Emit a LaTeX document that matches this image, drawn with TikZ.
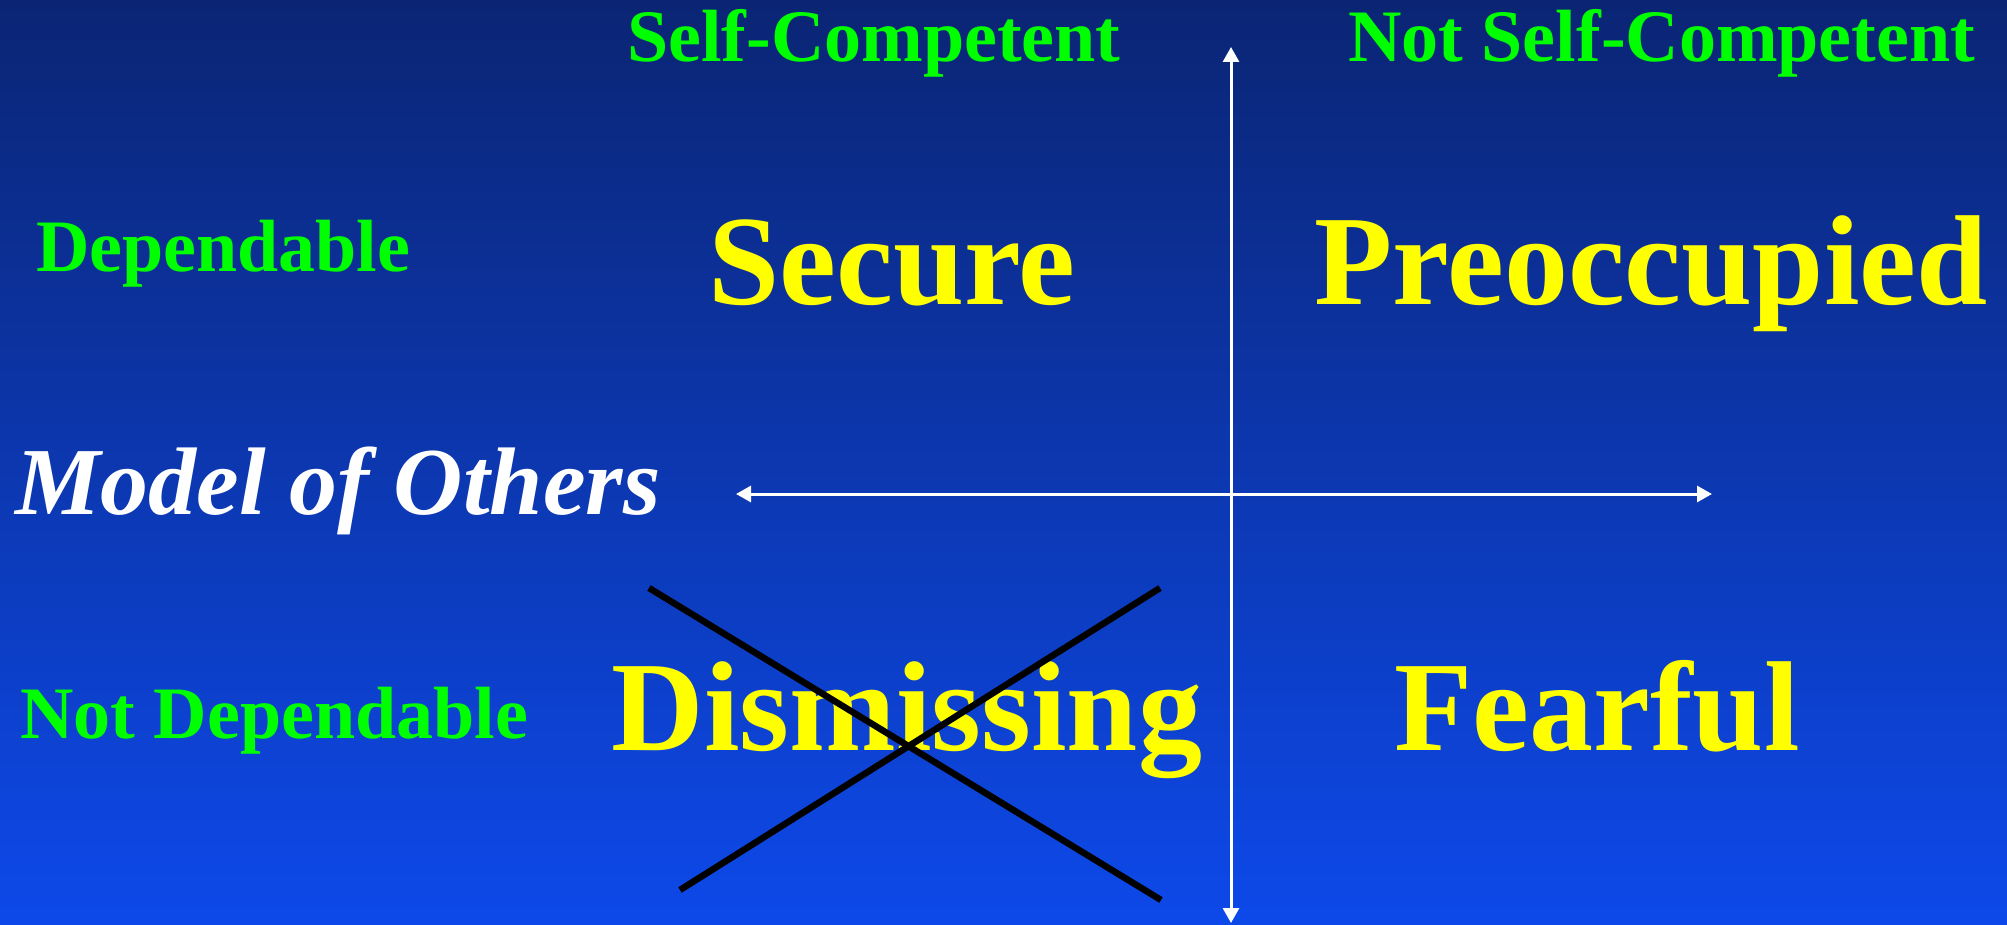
\documentclass[tikz,border=0pt]{standalone}
\usepackage{fontspec}
\setmainfont{Liberation Serif}
\usepackage{tikz}
\usetikzlibrary{arrows.meta}

\definecolor{bgtop}{RGB}{11,37,116}
\definecolor{bgbottom}{RGB}{13,73,234}
\definecolor{lime}{RGB}{0,255,0}
\definecolor{canary}{RGB}{255,255,0}

\tikzset{
    axislabel/.style={inner sep=0pt, text=lime, font=\bfseries\fontsize{74}{80}\selectfont},
    quadrant/.style={inner sep=0pt, text=canary, font=\bfseries\fontsize{128}{134}\selectfont},
    modellabel/.style={inner sep=0pt, text=white, font=\bfseries\itshape\fontsize{96}{100}\selectfont},
    axis/.style={white, line width=3pt, {Triangle[length=15pt,width=16pt]}-{Triangle[length=15pt,width=16pt]}},
    strike/.style={black, line width=6.5pt}
}

\begin{document}
\begin{tikzpicture}[x=1pt, y=-1pt]

        \shade[top color=bgtop, bottom color=bgbottom] (0,0) rectangle (2007,925);
        \useasboundingbox (0,0) rectangle (2007,925);

            % axes
            \coordinate (up) at (1231,47);
            \coordinate (down) at (1231,923);
            \coordinate (left) at (736,494);
            \coordinate (right) at (1712,494);
            \draw[axis] (down) -- (up);
            \draw[axis] (left) -- (right);

            % column and row headings
            \node[axislabel, anchor=base west] (selfcomp) at (627,62) {Self-Competent};
            \node[axislabel, anchor=base west] (notselfcomp) at (1348,62) {Not Self-Competent};
            \node[axislabel, anchor=base west] (dep) at (36,272) {Dependable};
            \node[axislabel, anchor=base west] (notdep) at (20,738) {Not Dependable};
            \node[modellabel, anchor=base west] (model) at (15,514) {Model of Others};

            % the four styles
            \node[quadrant, anchor=base] (secure) at (892,304) {Secure};
            \node[quadrant, anchor=base] (preocc) at (1651,304) {Preoccupied};
            \node[quadrant, anchor=base] (dismiss) at (907,750) {Dismissing};
            \node[quadrant, anchor=base] (fearful) at (1597,750) {Fearful};

            % crossing out
            \coordinate (xa) at (649,588);
            \coordinate (xb) at (1161,900);
            \coordinate (xc) at (680,890);
            \coordinate (xd) at (1160,588);
            \draw[strike] (xa) -- (xb);
            \draw[strike] (xc) -- (xd);

        \end{tikzpicture}
\end{document}
